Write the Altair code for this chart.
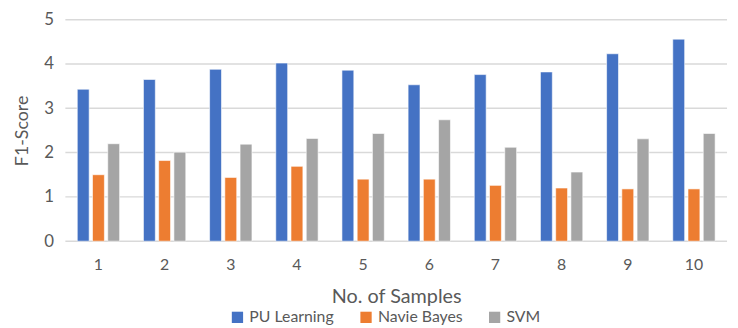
import altair as alt
import pandas as pd

samples = ["1", "2", "3", "4", "5", "6", "7", "8", "9", "10"]
pu_learning = [3.43, 3.65, 3.88, 4.02, 3.86, 3.53, 3.76, 3.82, 4.23, 4.56]
naive_bayes = [1.50, 1.82, 1.44, 1.69, 1.40, 1.40, 1.26, 1.20, 1.18, 1.18]
svm = [2.20, 2.01, 2.19, 2.32, 2.43, 2.74, 2.12, 1.56, 2.31, 2.43]
series = ["PU Learning", "Navie Bayes", "SVM"]
colors = ["#4472C4", "#ED7D31", "#A5A5A5"]
y_ticks = [0, 1, 2, 3, 4, 5]

rows = []
for i, s in enumerate(samples):
    for name, vals in zip(series, [pu_learning, naive_bayes, svm]):
        rows.append({"sample": s, "series": name, "value": vals[i]})
df = pd.DataFrame(rows)
grid_df = pd.DataFrame({"value": y_ticks})

font = "Lato"
yscale = alt.Scale(domain=[0, 5])
yaxis = alt.Axis(title="F1-Score", values=y_ticks, labelOverlap=False,
                 domain=False, ticks=False, grid=False,
                 labelPadding=12, titlePadding=12,
                 labelFontSize=17, titleFontSize=18,
                 labelColor="#595959", titleColor="#595959",
                 titleFontWeight="normal")

grid = alt.Chart(grid_df).mark_rule(color="#D9D9D9", strokeWidth=1.5).encode(
    y=alt.Y("value:Q", scale=yscale, axis=yaxis)
)

bars = alt.Chart(df).mark_bar(stroke="white", strokeWidth=0.6).encode(
    x=alt.X("sample:N", sort=samples,
            scale=alt.Scale(paddingInner=0.36, paddingOuter=0.18),
            axis=alt.Axis(title="No. of Samples", labelAngle=0, ticks=False, grid=False,
                          domain=False, labelPadding=16,
                          titlePadding=14, labelFontSize=16, titleFontSize=20,
                          labelColor="#595959", titleColor="#595959",
                          titleFontWeight="normal")),
    xOffset=alt.XOffset("series:N", sort=series,
                        scale=alt.Scale(paddingInner=0.22)),
    y=alt.Y("value:Q", scale=yscale, axis=yaxis),
    color=alt.Color("series:N", sort=series,
                    scale=alt.Scale(domain=series, range=colors),
                    legend=alt.Legend(title=None, orient="none", direction="horizontal",
                                      legendX=166, legendY=293, symbolType="square",
                                      symbolSize=130, symbolStrokeWidth=0,
                                      labelFontSize=16, labelColor="#595959",
                                      columnPadding=24, labelOffset=4)),
)

chart = alt.layer(grid, bars).properties(
    width=669, height=224,
    padding={"left": 58, "top": 10, "right": 3, "bottom": 86},
    autosize=alt.AutoSizeParams(type="none"),
).configure(font=font).configure_view(stroke="transparent", strokeWidth=0)

chart.save("out.html", embed_options={"renderer": "svg", "actions": False})
